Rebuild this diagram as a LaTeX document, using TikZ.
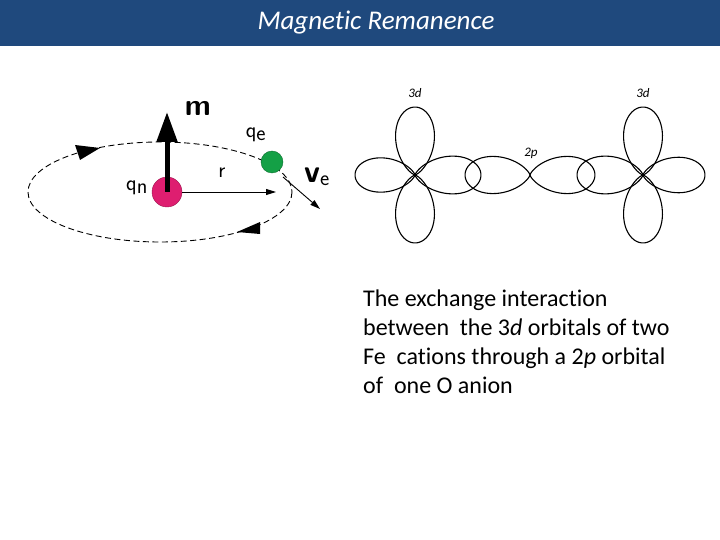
\documentclass[tikz,border=0pt]{standalone}
\usepackage{fontspec}
\setmainfont[RawFeature=-liga]{Carlito}
\usetikzlibrary{arrows.meta}
\definecolor{hdr}{RGB}{31,73,125}
\definecolor{pinkc}{RGB}{222,30,112}
\definecolor{greenc}{RGB}{20,160,70}
\tikzset{
  lobe/.style={draw=black, line width=1.1pt},
  body/.style={anchor=base west, font=\fontsize{24}{28}\selectfont, inner sep=0pt},
  orbl/.style={font=\fontsize{13}{15}\selectfont\itshape, inner sep=0pt},
  lab/.style={font=\sffamily\fontsize{22}{24}\selectfont, inner sep=0pt},
}
\newcommand{\lobeat}[4]{\draw[lobe, shift={(#1,#2)}, rotate=#3] plot[domain=-90:90, samples=80, smooth] ({#4*cos(\x)^5}, {#4*cos(\x)^4*sin(\x)});}
\begin{document}
\begin{tikzpicture}[x=1pt,y=-1pt]
\useasboundingbox (0,0) rectangle (720,540);
\fill[hdr] (0,0) rectangle (720,46);
\node[text=white, font=\fontsize{27}{30}\selectfont\itshape] (title) at (376,23) {Magnetic Remanence};
% left figure
\draw[dash pattern=on 6pt off 3.5pt, line width=0.9pt] (160,192) ellipse [x radius=132, y radius=50];
\fill (100,148) -- (75,145) -- (80,160) -- cycle;
\fill (237,232) -- (260,222) -- (260,234) -- cycle;
\node[circle, fill=pinkc, draw=pinkc!70!black, minimum size=30pt, inner sep=0pt] (qn) at (167,192) {};
\node[circle, fill=greenc, draw=greenc!70!black, minimum size=22pt, inner sep=0pt] (qe) at (272,162) {};
\coordinate (mtip) at (167,112);
\draw[line width=5pt, -{Triangle[length=30pt,width=20pt]}] (qn.center) -- (mtip);
\coordinate (rtip) at (276,192);
\draw[line width=0.9pt, -{Triangle[length=10pt,width=6pt]}] (qn.east) -- (rtip);
\coordinate (vtip) at (320,209);
\draw[line width=0.9pt, -{Triangle[length=10pt,width=6pt]}] (283,177) -- (vtip);
\node[font=\sffamily\bfseries\fontsize{30}{32}\selectfont] (m) at (198,108) {m};
\node[lab] (r) at (222,173) {r};
\node[lab] (qnl) at (137,188) {q$_{\textsf{n}}$};
\node[lab] (qel) at (256,135) {q$_{\textsf{e}}$};
\node[lab] (vel) at (317,177) {\textbf{\fontsize{32}{34}\selectfont v}$_{\textsf{e}}$};
% orbitals
\foreach \a/\L in {0/66,90/68,180/60,270/68}{\lobeat{415}{175}{\a}{\L}}
\foreach \a/\L in {0/62,90/68,180/66,270/68}{\lobeat{643}{175}{\a}{\L}}
\lobeat{530}{175}{0}{65}
\lobeat{530}{175}{180}{65}
\node[orbl] (d1) at (415,93) {3d};
\node[orbl] (d2) at (643,93) {3d};
\node[orbl] (p2) at (531,153) {2p};
% text
\node[body] (t1) at (363,306) {The exchange interaction};
\node[body] (t2) at (363,335) {between\ \ the 3\textit{d} orbitals of two};
\node[body] (t3) at (363,364) {Fe\ \ cations through a 2\textit{p} orbital};
\node[body] (t4) at (363,393) {of\ \ one O anion};
\end{tikzpicture}
\end{document}
